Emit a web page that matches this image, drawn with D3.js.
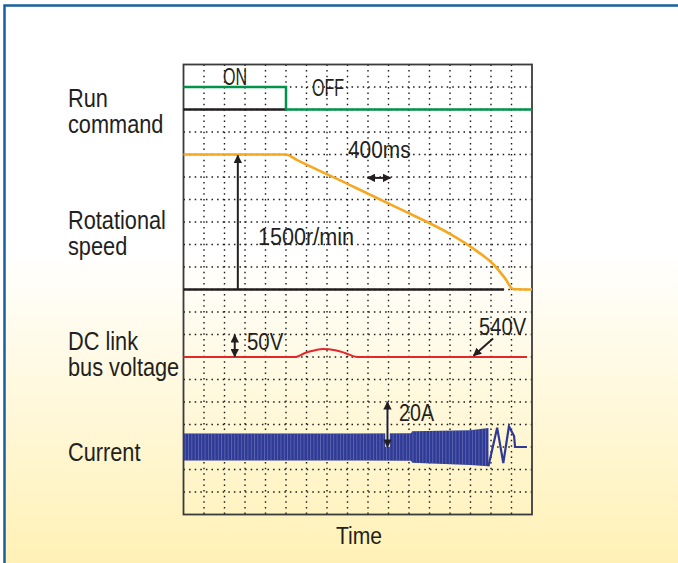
<!DOCTYPE html>
<meta charset="utf-8">
<head>
<title>Deceleration stop waveforms</title>
<script src="https://d3js.org/d3.v7.min.js"></script>
<style>
  body { margin: 0; background: #ffffff; }
  text { font-family: "Liberation Sans", Arial, Helvetica, sans-serif; fill: #231f20; }
</style>
</head>
<body>
<div id="chart"></div>
<script>

// ---- data (time in ms) ----
var runCommand = [[0, 1], [2000, 1], [2000, 0], [6800, 0]];
var speed = [[0, 1500], [2000, 1500], [2210, 1440], [3250, 1160], [4220, 895], [5200, 617],
             [5690, 440], [6040, 283], [6270, 128], [6430, 6], [6800, 0]];
var busVoltage = [[0, 540], [2180, 540], [2370, 549], [2570, 555], [2720, 558], [2960, 555],
                  [3150, 549], [3390, 540], [6700, 540]];
// dense part of the current trace: time, upper envelope (A), lower envelope (A)
var currentBand = [[0, 6, -6], [3450, 6, -6], [4440, 6.1, -6.1], [4460, 7, -7], [5600, 7.5, -8],
                   [5950, 8.5, -8.6]];
// last visible cycles of the current trace
var currentTail = [[5950, -8.6], [6120, 8.6], [6240, -7.1], [6350, 9.2], [6450, 4.9], [6470, 0], [6700, 0]];
var leftLabels = [["Run", "command"], ["Rotational", "speed"], ["DC link", "bus voltage"], ["Current"]];

// ---- layout ----
var W = 678, H = 563;
var plot = {left: 183.5, right: 532, top: 64.5, bottom: 514.5};
var nCols = 17, nRows = 20;

var svg = d3.select("#chart").append("svg")
    .attr("width", W).attr("height", H);

var defs = svg.append("defs");
var grad = defs.append("linearGradient").attr("id", "bg")
    .attr("x1", 0).attr("y1", 0).attr("x2", 0).attr("y2", 1);
grad.append("stop").attr("offset", "0").attr("stop-color", "#ffffff");
grad.append("stop").attr("offset", "0.42").attr("stop-color", "#ffffff");
grad.append("stop").attr("offset", "1").attr("stop-color", "#fff0b0");

// light streaks over the dense current band
var pat = defs.append("pattern").attr("id", "streaks")
    .attr("patternUnits", "userSpaceOnUse").attr("width", 3.3).attr("height", 40);
pat.append("rect").attr("x", 0).attr("y", 0).attr("width", 0.9).attr("height", 40)
    .attr("fill", "#8088c4").attr("opacity", 0.55);

function marker(id, color) {
    defs.append("marker")
        .attr("id", id)
        .attr("viewBox", "0 0 10 10")
        .attr("refX", 9).attr("refY", 5)
        .attr("markerWidth", 4.2).attr("markerHeight", 4.2)
        .attr("orient", "auto-start-reverse")
        .append("path")
        .attr("d", "M0,0 L10,5 L0,10 Z")
        .style("fill", color);
}
marker("arr", "#231f20");

// frame
svg.append("rect").attr("x", 0).attr("y", 0).attr("width", W).attr("height", H).attr("fill", "#ffffff");
svg.append("rect").attr("x", 4.5).attr("y", 5.5).attr("width", W + 20).attr("height", H + 20)
    .attr("fill", "url(#bg)")
    .attr("stroke", "#17609e").attr("stroke-width", 2.5);

// scales
var x = d3.scaleLinear().domain([0, nCols * 400]).range([plot.left, plot.right]);
var row = d3.scaleLinear().domain([0, nRows]).range([plot.top, plot.bottom]);
var yRun = d3.scaleLinear().domain([0, 1]).range([row(2), row(1)]);
var ySpeed = d3.scaleLinear().domain([0, 1500]).range([row(10), row(4)]);
var yVolt = d3.scaleLinear().domain([490, 590]).range([row(14), row(12)]);
var yCur = d3.scaleLinear().domain([-10, 10]).range([row(18), row(16)]);

// grid
var g = svg.append("g");
g.selectAll(".vgrid").data(d3.range(1, nCols)).enter().append("line")
    .attr("x1", function(d) { return x(d * 400); })
    .attr("x2", function(d) { return x(d * 400); })
    .attr("y1", plot.top).attr("y2", plot.bottom)
    .attr("stroke", "#1a1a1a").attr("stroke-width", 1.4)
    .attr("stroke-dasharray", "1.5,4.1");
g.selectAll(".hgrid").data(d3.range(1, nRows)).enter().append("line")
    .attr("y1", function(d) { return row(d); })
    .attr("y2", function(d) { return row(d); })
    .attr("x1", plot.left).attr("x2", plot.right)
    .attr("stroke", "#1a1a1a").attr("stroke-width", 1.4)
    .attr("stroke-dasharray", "1.5,4.1");
g.append("rect")
    .attr("x", plot.left).attr("y", plot.top)
    .attr("width", plot.right - plot.left).attr("height", plot.bottom - plot.top)
    .attr("fill", "none").attr("stroke", "#3b3b3b").attr("stroke-width", 1.8);

// reference (zero) lines
g.append("line").attr("x1", x(0)).attr("x2", x(2000))
    .attr("y1", yRun(0)).attr("y2", yRun(0))
    .attr("stroke", "#231f20").attr("stroke-width", 2.5);
g.append("line").attr("x1", x(0)).attr("x2", x(6250))
    .attr("y1", ySpeed(0)).attr("y2", ySpeed(0))
    .attr("stroke", "#231f20").attr("stroke-width", 2.5);

// traces
var line = function(ys, curve) {
    return d3.line().curve(curve || d3.curveLinear)
        .x(function(d) { return x(d[0]); }).y(function(d) { return ys(d[1]); });
};
g.append("path").datum(runCommand).attr("d", line(yRun))
    .attr("fill", "none").attr("stroke", "#00934a").attr("stroke-width", 2.5);
g.append("path").datum(speed).attr("d", line(ySpeed, d3.curveMonotoneX))
    .attr("fill", "none").attr("stroke", "#f6a821").attr("stroke-width", 2.6);
g.append("path").datum(busVoltage).attr("d", line(yVolt, d3.curveMonotoneX))
    .attr("fill", "none").attr("stroke", "#e5262b").attr("stroke-width", 2);
var band = d3.area()
    .x(function(d) { return x(d[0]); })
    .y0(function(d) { return yCur(d[2]); })
    .y1(function(d) { return yCur(d[1]); });
g.append("path").datum(currentBand).attr("d", band).attr("fill", "#2f3a95");
g.append("path").datum(currentBand).attr("d", band).attr("fill", "url(#streaks)");
g.append("path").datum(currentTail).attr("d", line(yCur))
    .attr("fill", "none").attr("stroke", "#2f3a95").attr("stroke-width", 2.2)
    .attr("stroke-linejoin", "miter");

// annotations
function arrow(x1, y1, x2, y2, both, halo) {
    if (halo) {
        g.append("line").attr("x1", x1).attr("y1", y1).attr("x2", x2).attr("y2", y2)
            .attr("stroke", "#ffffff").attr("stroke-width", 4.5);
    }
    var l = g.append("line").attr("x1", x1).attr("y1", y1).attr("x2", x2).attr("y2", y2)
        .attr("stroke", "#231f20").attr("stroke-width", 2)
        .attr("marker-end", "url(#arr)");
    if (both) l.attr("marker-start", "url(#arr)");
}
arrow(x(1060), ySpeed(0), x(1060), ySpeed(1490), false);
arrow(x(3590), ySpeed(1240), x(4040), ySpeed(1240), true);
arrow(x(1000), yVolt(541), x(1000), yVolt(589), true);
arrow(x(6040), yVolt(581), x(5660), yVolt(543), false);
arrow(x(3980), yCur(0), x(3980), yCur(20), true, true);

function label(px, py, str, size, sx, anchor) {
    svg.append("text")
        .attr("transform", "translate(" + px + "," + py + ") scale(" + sx + ",1)")
        .attr("text-anchor", anchor || "start")
        .style("font-size", size + "px")
        .text(str);
}
label(223, 85, "ON", 23, 0.7);
label(312, 96, "OFF", 23, 0.7);
label(348, 158, "400ms", 24, 0.87);
label(258, 245, "1500r/min", 24, 0.9);
label(247, 350, "50V", 24, 0.85);
label(479, 335, "540V", 24, 0.84);
label(399, 421, "20A", 24, 0.82);
label(359, 544, "Time", 24, 0.88, "middle");

var labelBase = [107, 229, 350, 461];
leftLabels.forEach(function(lines, i) {
    lines.forEach(function(s, j) {
        label(68, labelBase[i] + j * 26, s, 25, 0.87);
    });
});

</script>
</body>
</html>
